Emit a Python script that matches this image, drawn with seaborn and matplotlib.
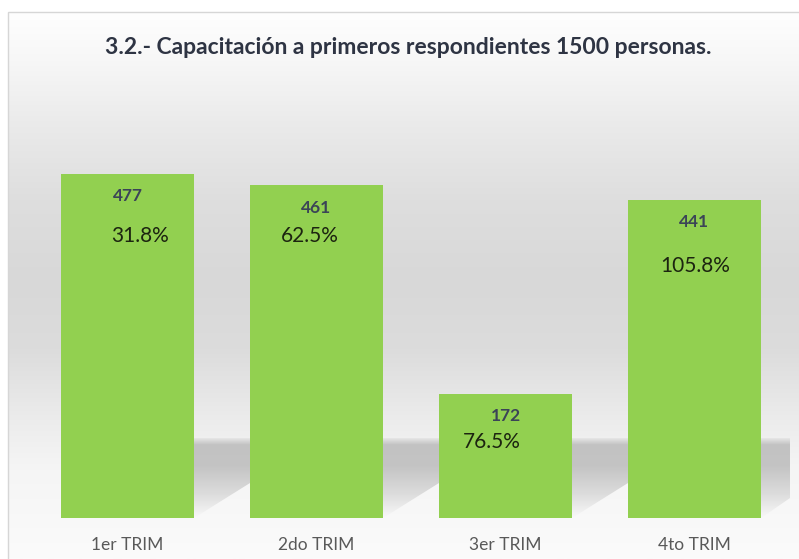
import numpy as np
import matplotlib.pyplot as plt
import matplotlib.colors as mcolors
from matplotlib.patches import Polygon, Rectangle
import seaborn as sns

# datos
trimestres = ["1er TRIM", "2do TRIM", "3er TRIM", "4to TRIM"]
personas = [477, 461, 172, 441]
avance = [31.8, 62.5, 76.5, 105.8]
titulo = "3.2.- Capacitación a primeros respondientes 1500 personas."

sns.set_theme(style="white")
plt.rcParams["font.family"] = ["Lato", "DejaVu Sans"]

W, H = 799, 559
fig = plt.figure(figsize=(W / 100, H / 100), dpi=100)
fig.patch.set_facecolor("white")


def vgrad(n, pos, cols):
    # degradado vertical de n filas
    t = np.linspace(0, 1, n)
    g = np.zeros((n, 1, 3))
    for c in range(3):
        g[:, 0, c] = np.interp(t, pos, [mcolors.to_rgb(k)[c] for k in cols])
    return g


# fondo con degradado (coordenadas en pixeles)
bg = fig.add_axes([0, 0, 1, 1], zorder=-2)
bg.set_xlim(0, W)
bg.set_ylim(0, H)
bg.axis("off")
stops = [12, 60, 120, 200, 280, 350, 420, 470, 559]
cols = ["#fefefe", "#f7f7f7", "#ebebeb", "#dedede", "#d8d8d8", "#dcdcdc",
        "#ececec", "#f5f5f5", "#fbfbfb"]
pos = [(s - 12) / (H - 12) for s in stops]
bg.imshow(vgrad(300, pos, cols), extent=(8, W, 0, H - 12), aspect="auto", origin="upper")
bg.add_patch(Rectangle((8, -5), W, H - 12 + 5, fill=False, ec="#d6d6d6", lw=1))

# grafico principal
ax = fig.add_axes([33 / W, 41 / H, 756 / W, 448 / H])
ax.patch.set_alpha(0)
sns.barplot(x=trimestres, y=personas, color="#92D050", saturation=1,
            width=0.705, linewidth=0, ax=ax, zorder=3)
ax.set_xlim(-0.5, 3.5)
ax.set_ylim(0, 620.5)
sns.despine(ax=ax, left=True, bottom=True)
ax.set_yticks([])
ax.tick_params(axis="x", length=0, pad=14, labelsize=12.5, labelcolor="#595959")
ax.set_xlabel("")

# sombra detras de las barras
bars = sorted(ax.patches, key=lambda p: p.get_x())
top_s, floor = H - 438, H - 518
shade = vgrad(80, [0, 0.08, 0.35, 0.7, 1],
              ["#e4e4e4", "#c2c2c2", "#c4c4c4", "#dcdcdc", "#f8f8f8"])
for i, p in enumerate(bars):
    x1 = ax.transData.transform([(p.get_x() + p.get_width(), 0)])[0][0]
    if i + 1 < len(bars):
        end = ax.transData.transform([(bars[i + 1].get_x(), 0)])[0][0]
    else:
        end = 790
    yend = floor + min(end - x1, 50) * 0.7
    poly = Polygon([(x1, floor), (x1, top_s), (end, top_s), (end, yend)],
                   closed=True, transform=bg.transData, fc="none", ec="none")
    bg.add_patch(poly)
    im = bg.imshow(shade, extent=(x1, end, floor, top_s), aspect="auto", origin="upper")
    im.set_clip_path(poly)

# etiquetas
pct_off = [(13, -62), (-6.5, -50.5), (-13.5, -48), (1, -66.5)]
for i, (v, pc) in enumerate(zip(personas, avance)):
    ax.annotate(f"{v}", xy=(i, v), xytext=(0, -22.5), textcoords="offset pixels",
                ha="center", va="center", fontsize=12.5, fontweight="bold",
                color="#3b4457", zorder=5)
    ax.annotate(f"{pc:.1f}%", xy=(i, v), xytext=pct_off[i], textcoords="offset pixels",
                ha="center", va="center", fontsize=15, color="#1c2410", zorder=5)

fig.text(408 / W, 1 - 47 / H, titulo, ha="center", va="center",
         fontsize=16.5, fontweight="bold", color="#2e3443")

fig.savefig("out.png", dpi=100)
